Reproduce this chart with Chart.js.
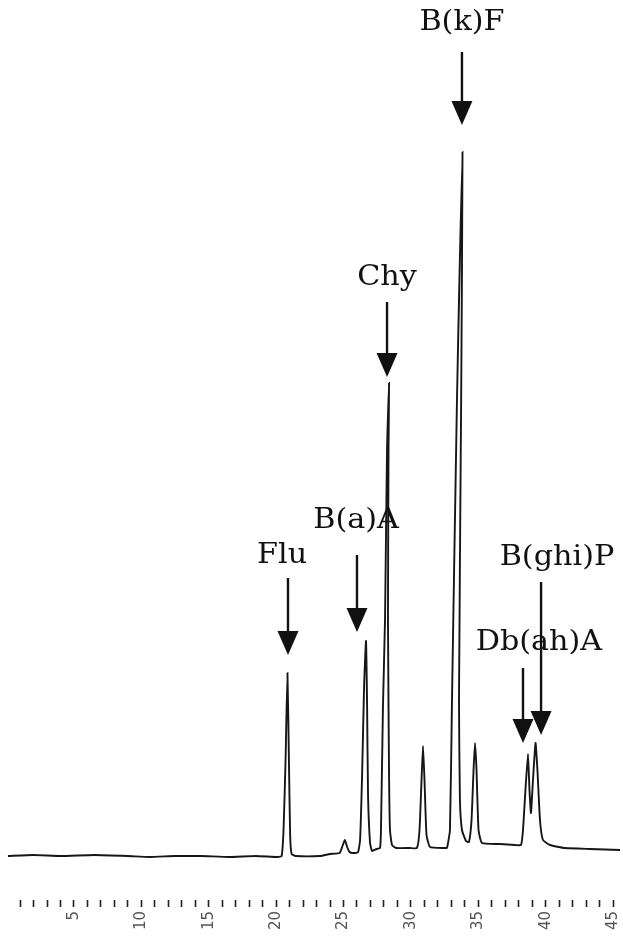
<!DOCTYPE html>
<html>
<head>
<meta charset="utf-8">
<script src="https://cdn.jsdelivr.net/npm/chart.js@4/dist/chart.umd.min.js"></script>
<style>
  html, body { margin: 0; padding: 0; background: #fff; }
  #wrap { width: 623px; height: 945px; }
</style>
</head>
<body>
<div id="wrap"><canvas id="c" width="623" height="945"></canvas></div>
<script>
// Recorded trace: retention time (min) and detector response
const traceTime = [
  0.10, 2.00, 4.00, 6.50, 9.00, 10.60, 12.50, 14.40, 16.50, 18.50, 20.14,
  20.41, 20.55, 20.70, 20.84, 20.95, 21.04, 21.15, 21.45,
  23.26, 24.00, 24.71, 24.95, 25.11, 25.27, 25.45, 25.70,
  26.08, 26.23, 26.38, 26.53, 26.67, 26.75, 26.82, 26.97, 27.12, 27.45,
  27.71, 27.78, 27.93, 28.08, 28.23, 28.38, 28.34, 28.30, 28.38, 28.45, 28.60, 28.90,
  29.94, 30.45, 30.64, 30.79, 30.90, 31.01, 31.16, 31.42, 32.53,
  32.68, 32.90, 33.05, 33.42, 33.83, 33.73, 33.57, 33.64, 33.79, 34.09,
  34.31, 34.50, 34.65, 34.76, 34.87, 35.02, 35.28,
  36.61, 37.73, 38.17, 38.32, 38.50, 38.69, 38.80, 38.91, 39.06, 39.25, 39.39, 39.58, 39.80,
  40.32, 41.44, 43.29, 45.52
];
const traceSignal = [
  -0.1, 0.0, -0.1, 0.0, -0.1, -0.2, -0.1, -0.1, -0.2, -0.1, -0.2,
  -0.1, 2.5, 9.5, 18.2, 9.5, 2.0, 0.1, -0.1,
  -0.1, 0.1, 0.2, 1.0, 1.5, 0.8, 0.3, 0.2,
  0.3, 1.5, 8.0, 17.0, 21.4, 15.0, 6.0, 1.2, 0.4, 0.6,
  0.7, 2.5, 15.0, 23.5, 40.5, 47.2, 40.5, 23.5, 8.0, 2.5, 1.0, 0.7,
  0.7, 0.7, 2.5, 7.5, 10.9, 7.5, 2.0, 0.8, 0.7,
  0.7, 2.5, 15.5, 45.5, 70.3, 45.5, 15.5, 5.5, 2.5, 1.4,
  1.3, 3.5, 8.5, 11.2, 8.5, 2.5, 1.2,
  1.1, 1.0, 1.0, 2.5, 6.5, 10.1, 6.5, 4.2, 7.5, 11.2, 8.5, 3.5, 1.5,
  1.0, 0.7, 0.6, 0.5
];

// Identified compounds
const peakNames = ['Flu', 'B(a)A', 'Chy', 'B(k)F', 'Db(ah)A', 'B(ghi)P'];

// Time axis labels
const tickMinutes = [5, 10, 15, 20, 25, 30, 35, 40, 45];
const tickLabels = ['5', '10', '15', '20', '25', '30', '35', '40', '45'];
const firstMinorTick = 1;
const lastMinorTick = 45;

// Where each compound's name and arrow sit (time in min, height in response units)
const calloutLayout = [
  { labelX: 20.44, labelY: 29.2, arrowX: 20.88, tailY: 27.7, tipY: 20.0 },
  { labelX: 25.93, labelY: 32.7, arrowX: 26.00, tailY: 30.0, tipY: 22.3 },
  { labelX: 28.23, labelY: 57.0, arrowX: 28.23, tailY: 55.3, tipY: 47.8 },
  { labelX: 33.79, labelY: 82.5, arrowX: 33.79, tailY: 80.3, tipY: 73.0 },
  { labelX: 39.50, labelY: 20.5, arrowX: 38.32, tailY: 18.7, tipY: 11.2 },
  { labelX: 40.84, labelY: 29.0, arrowX: 39.66, tailY: 27.3, tipY: 12.0 }
];

const tracePoints = traceTime.map((t, i) => ({ x: t, y: traceSignal[i] }));

// Arrows with filled heads and the compound names above them
const calloutPlugin = {
  id: 'callouts',
  afterDatasetsDraw(chart) {
    const { ctx, scales: { x, y } } = chart;
    const headH = 24, headW = 21;
    ctx.save();
    ctx.fillStyle = '#111';
    ctx.strokeStyle = '#111';
    peakNames.forEach((name, i) => {
      const c = calloutLayout[i];
      const ax = x.getPixelForValue(c.arrowX);
      const tail = y.getPixelForValue(c.tailY);
      const tip = y.getPixelForValue(c.tipY);
      ctx.lineWidth = 2.4;
      ctx.beginPath();
      ctx.moveTo(ax, tail);
      ctx.lineTo(ax, tip - headH + 2);
      ctx.stroke();
      ctx.beginPath();
      ctx.moveTo(ax - headW / 2, tip - headH);
      ctx.lineTo(ax + headW / 2, tip - headH);
      ctx.lineTo(ax, tip);
      ctx.closePath();
      ctx.fill();

      const lx = x.getPixelForValue(c.labelX);
      const ly = y.getPixelForValue(c.labelY);
      ctx.font = '27px "DejaVu Serif"';
      ctx.textAlign = 'center';
      ctx.textBaseline = 'alphabetic';
      ctx.save();
      ctx.translate(lx, ly);
      ctx.scale(1.12, 1);
      ctx.fillText(name, 0, 0);
      ctx.restore();
    });
    ctx.restore();
  }
};

new Chart(document.getElementById('c'), {
  type: 'line',
  data: {
    datasets: [{
      data: tracePoints,
      borderColor: '#161616',
      borderWidth: 1.9,
      pointRadius: 0,
      tension: 0.15,
      fill: false
    }]
  },
  options: {
    responsive: false,
    devicePixelRatio: 1,
    animation: false,
    layout: { padding: 0 },
    plugins: { legend: { display: false }, tooltip: { enabled: false } },
    scales: {
      x: {
        type: 'linear',
        min: -0.49,
        max: 45.74,
        border: { display: false },
        grid: {
          drawOnChartArea: false,
          drawTicks: true,
          tickLength: 7,
          tickWidth: 1.6,
          tickColor: '#222'
        },
        afterBuildTicks(scale) {
          const ticks = [];
          for (let m = firstMinorTick; m <= lastMinorTick; m++) ticks.push({ value: m });
          scale.ticks = ticks;
        },
        afterFit(scale) {
          scale.height = 45;
          scale.paddingLeft = 0;
          scale.paddingRight = 0;
        },
        ticks: {
          autoSkip: false,
          minRotation: 90,
          maxRotation: 90,
          padding: 4,
          color: '#555',
          font: { family: 'DejaVu Sans', size: 15 },
          callback(value) {
            const k = tickMinutes.indexOf(value);
            return k >= 0 ? tickLabels[k] : '';
          }
        }
      },
      y: {
        display: false,
        min: -4.5,
        max: 85.5
      }
    }
  },
  plugins: [calloutPlugin]
});
</script>
</body>
</html>
